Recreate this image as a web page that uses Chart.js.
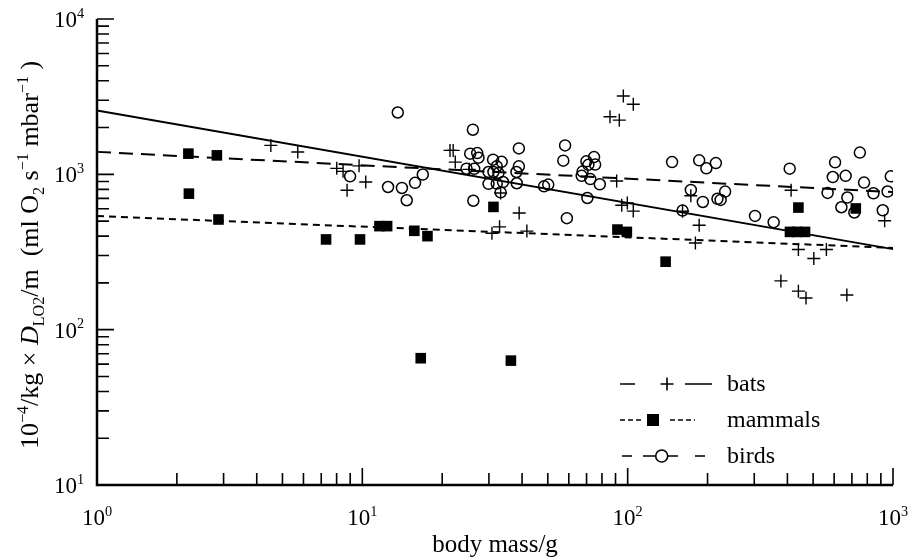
<!DOCTYPE html>
<html>
<head>
<meta charset="utf-8">
<script src="https://cdn.jsdelivr.net/npm/chart.js@4.4.1/dist/chart.umd.min.js"></script>
<style>
  html, body { margin: 0; padding: 0; background: #fff; }
</style>
</head>
<body>
<canvas id="chart" width="913" height="557"></canvas>
<script>
// values: body mass in g, 10^-4/kg x D_LO2/m
const batMass = [4.52, 5.71, 8.01, 8.46, 9.72, 8.76, 10.3, 21.4, 22.0, 22.4, 25.3, 33.2, 39.0, 32.9, 30.8, 41.7,
  96.3, 105, 85.8, 93.0, 90.9, 95.0, 99.7, 105, 161, 173, 186, 180, 413, 440, 503, 561, 378, 440, 470, 670, 930];
const batValue = [1535, 1391, 1093, 1045, 1134, 789, 892, 1426, 1426, 1199, 1077, 759, 564, 459, 418, 431,
  3191, 2828, 2348, 2233, 906, 632, 654, 580, 579, 728, 470, 361, 789, 328, 287, 328, 206, 177, 160, 167, 503];

const mammalMass = [2.21, 2.83, 2.22, 2.87, 7.3, 9.8, 11.6, 12.4, 15.7, 17.6, 16.6, 36.3, 31.2, 91.5, 99.3, 139,
  440, 409, 435, 466, 724];
const mammalValue = [1359, 1325, 751, 512, 381, 381, 464, 464, 433, 400, 65.5, 63.2, 617, 441, 426, 274,
  611, 426, 426, 426, 603];

const birdMass = [13.6, 8.99, 12.5, 14.1, 14.7, 15.8, 16.9, 26.1, 25.5, 27.1, 27.4, 24.7, 26.4, 26.2,
  31.1, 33.5, 32.1, 29.9, 31.2, 32.6, 29.9, 32.1, 33.9, 33.2, 38.9, 38.9, 38.1, 38.2, 48.4, 50.2,
  58.1, 57.2, 59.0, 69.9, 71.1, 74.7, 75.4, 67.6, 67.1, 72.3, 78.5, 70.5,
  147, 186, 198, 215, 173, 192, 218, 224, 233, 161, 302, 355, 408,
  605, 750, 593, 663, 778, 844, 954, 981, 567, 673, 639, 715, 915];
const birdValue = [2501, 971, 829, 817, 681, 882, 997, 1937, 1358, 1370, 1280, 1088, 1085, 676,
  1243, 1203, 1126, 1035, 1035, 1019, 869, 872, 892, 766, 1469, 1126, 1035, 876, 837, 859,
  1536, 1225, 522, 1212, 1151, 1291, 1156, 1042, 978, 932, 863, 704,
  1199, 1230, 1093, 1182, 793, 664, 696, 684, 774, 584, 540, 492, 1088,
  1194, 1380, 961, 978, 885, 755, 775, 971, 759, 709, 614, 568, 587];

// regression lines, end values at 1 g and 1000 g
const fitMass = [1, 1000];
const batFit = [2580, 330];
const mammalFit = [539, 336];
const birdFit = [1395, 769];

const xTicks = [1, 10, 100, 1000];
const yTicks = [10, 100, 1000, 10000];
const legendLabels = ['bats', 'mammals', 'birds'];

const FONT = '"Liberation Serif", "DejaVu Serif", serif';

const pts = (xs, ys) => xs.map((x, i) => ({ x: x, y: ys[i] }));

// text with super/subscripts: parts = [[text, kind]], kind '', 'sup', 'sub', 'it'
function richWidth(ctx, parts, size) {
  let w = 0;
  for (const [t, kind] of parts) {
    const s = (kind === 'sup' || kind === 'sub') ? size * 0.62 : size;
    ctx.font = (kind === 'it' ? 'italic ' : '') + s + 'px ' + FONT;
    w += ctx.measureText(t).width;
  }
  return w;
}
function drawRich(ctx, parts, x, y, size) {
  let cx = x;
  for (const [t, kind] of parts) {
    const s = (kind === 'sup' || kind === 'sub') ? size * 0.62 : size;
    ctx.font = (kind === 'it' ? 'italic ' : '') + s + 'px ' + FONT;
    const dy = kind === 'sup' ? -size * 0.4 : kind === 'sub' ? size * 0.22 : 0;
    ctx.fillText(t, cx, y + dy);
    cx += ctx.measureText(t).width;
  }
}
const power = (n) => [['10', ''], [String(n), 'sup']];

const framePlugin = {
  id: 'frame',
  afterDraw(chart) {
    const { ctx, chartArea: a, scales: { x, y } } = chart;
    ctx.save();
    ctx.strokeStyle = '#000';
    ctx.fillStyle = '#000';
    ctx.textBaseline = 'alphabetic';

    // axes
    ctx.lineWidth = 2.5;
    ctx.beginPath();
    ctx.moveTo(a.left, a.top);
    ctx.lineTo(a.left, a.bottom);
    ctx.lineTo(a.right, a.bottom);
    ctx.stroke();

    // inward ticks
    ctx.lineWidth = 1.6;
    ctx.beginPath();
    for (const d of xTicks) {
      for (let k = 1; k <= 9; k++) {
        const v = d * k;
        if (v > 1000 || (k > 1 && d === 1000)) continue;
        const px = x.getPixelForValue(v);
        const len = k === 1 ? 17 : 12;
        ctx.moveTo(px, a.bottom);
        ctx.lineTo(px, a.bottom - len);
      }
    }
    for (const d of yTicks) {
      for (let k = 1; k <= 9; k++) {
        const v = d * k;
        if (v > 10000 || (k > 1 && d === 10000)) continue;
        const py = y.getPixelForValue(v);
        const len = k === 1 ? 17 : 12;
        ctx.moveTo(a.left, py);
        ctx.lineTo(a.left + len, py);
      }
    }
    ctx.stroke();

    // tick labels
    const ts = 23;
    xTicks.forEach((v, i) => {
      const w = richWidth(ctx, power(i), ts);
      drawRich(ctx, power(i), x.getPixelForValue(v) - w / 2, a.bottom + 40, ts);
    });
    yTicks.forEach((v, i) => {
      const w = richWidth(ctx, power(i + 1), ts);
      drawRich(ctx, power(i + 1), a.left - 13 - w, y.getPixelForValue(v) + 8, ts);
    });

    // axis titles
    const xt = [['body mass/g', '']];
    const xs = 25;
    drawRich(ctx, xt, (a.left + a.right) / 2 - richWidth(ctx, xt, xs) / 2, 552, xs);

    const yt = [['10', ''], ['\u22124', 'sup'], ['/kg \u00d7 ', ''], ['D', 'it'], ['LO', 'sub'],
      ['2', 'sub'], ['/m  (ml O', ''], ['2', 'sub'], [' s', ''], ['\u22121', 'sup'],
      [' mbar', ''], ['\u22121', 'sup'], [' )', '']];
    const ys = 26;
    ctx.save();
    ctx.translate(38, 255);
    ctx.rotate(-Math.PI / 2);
    drawRich(ctx, yt, -richWidth(ctx, yt, ys) / 2, 0, ys);
    ctx.restore();

    // legend
    const lx = 620;
    const rows = [384, 420, 456];
    ctx.lineWidth = 1.6;
    // bats: solid with plus
    let ry = rows[0];
    ctx.setLineDash([]);
    ctx.beginPath();
    ctx.moveTo(lx, ry); ctx.lineTo(lx + 15, ry);
    ctx.moveTo(lx + 65, ry); ctx.lineTo(lx + 92, ry);
    ctx.moveTo(lx + 40.5, ry); ctx.lineTo(lx + 53.5, ry);
    ctx.moveTo(lx + 47, ry - 6.5); ctx.lineTo(lx + 47, ry + 6.5);
    ctx.stroke();
    // mammals: short dashes with square
    ry = rows[1];
    ctx.setLineDash([5, 3]);
    ctx.beginPath();
    ctx.moveTo(lx, ry); ctx.lineTo(lx + 24, ry);
    ctx.moveTo(lx + 50, ry); ctx.lineTo(lx + 75, ry);
    ctx.stroke();
    ctx.setLineDash([]);
    ctx.fillRect(lx + 27, ry - 6, 12, 12);
    // birds: long dashes with circle
    ry = rows[2];
    ctx.beginPath();
    ctx.moveTo(lx + 2, ry); ctx.lineTo(lx + 12, ry);
    ctx.moveTo(lx + 23, ry); ctx.lineTo(lx + 35, ry);
    ctx.moveTo(lx + 48, ry); ctx.lineTo(lx + 58, ry);
    ctx.moveTo(lx + 75, ry); ctx.lineTo(lx + 85, ry);
    ctx.stroke();
    ctx.beginPath();
    ctx.arc(lx + 41.7, ry, 6, 0, Math.PI * 2);
    ctx.stroke();

    ctx.font = '24px ' + FONT;
    legendLabels.forEach((t, i) => ctx.fillText(t, 727, rows[i] + 7));
    ctx.restore();
  }
};

const fitLine = (vals, dash) => ({
  data: pts(fitMass, vals),
  showLine: true,
  borderColor: '#000',
  borderWidth: 2,
  borderDash: dash,
  pointRadius: 0,
  fill: false,
  clip: false
});

new Chart(document.getElementById('chart'), {
  type: 'scatter',
  data: {
    datasets: [
      {
        label: 'mammals',
        data: pts(mammalMass, mammalValue),
        pointStyle: 'rect',
        pointRadius: 7.5,
        backgroundColor: '#000',
        borderColor: '#000',
        borderWidth: 0
      },
      {
        label: 'bats',
        data: pts(batMass, batValue),
        pointStyle: 'cross',
        pointRadius: 6.5,
        borderColor: '#000',
        borderWidth: 1.4
      },
      {
        label: 'birds',
        data: pts(birdMass, birdValue),
        pointStyle: 'circle',
        pointRadius: 5.5,
        backgroundColor: 'rgba(0,0,0,0)',
        borderColor: '#000',
        borderWidth: 1.5
      },
      { label: 'bats fit', ...fitLine(batFit, []) },
      { label: 'mammals fit', ...fitLine(mammalFit, [7, 5]) },
      { label: 'birds fit', ...fitLine(birdFit, [14, 8]) }
    ]
  },
  options: {
    responsive: false,
    animation: false,
    layout: { padding: { left: 97, right: 20, top: 19, bottom: 72 } },
    plugins: {
      legend: { display: false },
      tooltip: { enabled: false }
    },
    scales: {
      x: { type: 'logarithmic', min: 1, max: 1000, display: false },
      y: { type: 'logarithmic', min: 10, max: 10000, display: false }
    }
  },
  plugins: [framePlugin]
});
</script>
</body>
</html>
